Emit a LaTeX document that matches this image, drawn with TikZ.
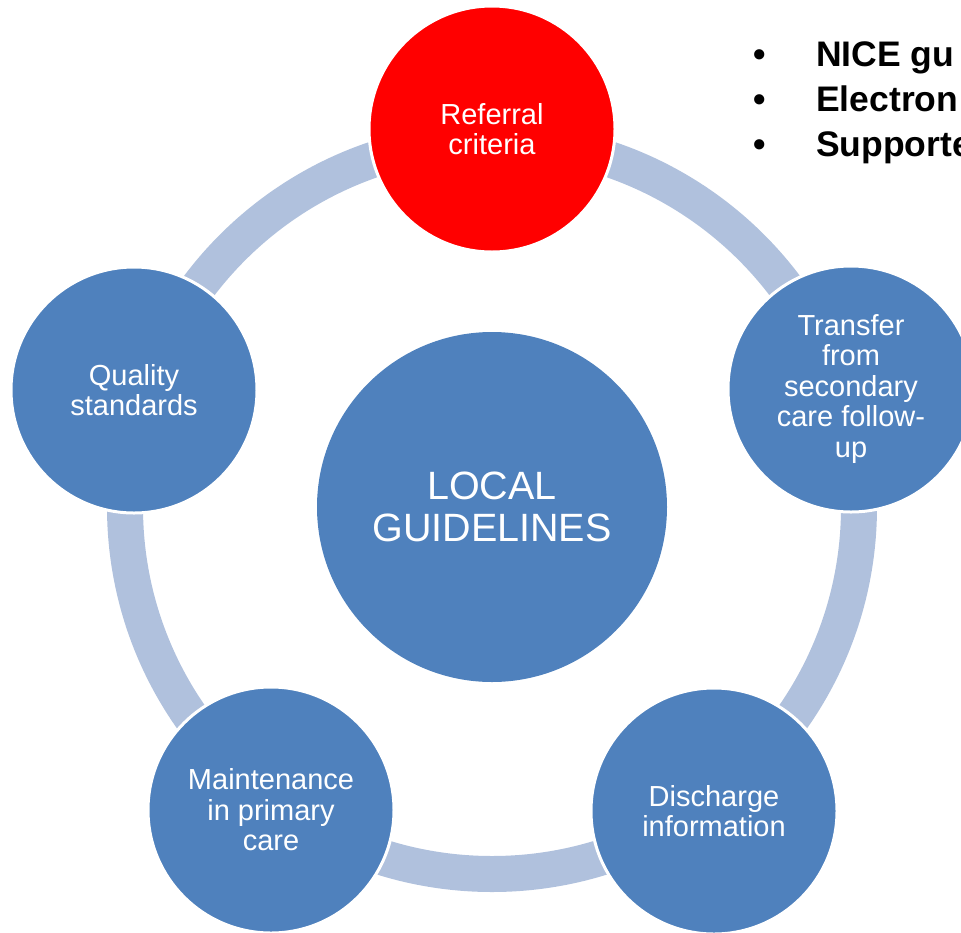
\documentclass[tikz,border=0pt]{standalone}
\usepackage{fontspec}
\setmainfont{Liberation Sans}
\definecolor{cblue}{RGB}{79,129,189}
\definecolor{cring}{RGB}{176,193,221}
\definecolor{cred}{RGB}{255,0,0}
\begin{document}
\begin{tikzpicture}[x=1pt,y=-1pt,
  outer/.style={circle, minimum size=246pt, inner sep=0pt, fill=cblue, draw=white, line width=3pt,
    text=white, align=center, font=\fontsize{29}{30.5}\selectfont},
  hub/.style={circle, minimum size=350pt, inner sep=0pt, fill=cblue,
    text=white, align=center, font=\fontsize{39.5}{42.3}\selectfont},
  ring/.style={draw=cring, line width=36pt},
  bul/.style={anchor=base, inner sep=0pt, font=\fontsize{35.5}{45}\selectfont\bfseries},
  bultext/.style={anchor=base west, inner sep=0pt, font=\fontsize{35.5}{45}\selectfont\bfseries}]
\useasboundingbox (0,0) rectangle (961,932);
\coordinate (c) at (492,507);
\draw[ring] (c) circle [radius=367pt];
\node[hub] (hub) at (c) {LOCAL\\GUIDELINES};
\node[outer, fill=cred] (ref) at (492,129) {Referral\\criteria};
\node[outer] (tra) at (851,389) {Transfer\\from\\secondary\\care follow-\\up};
\node[outer] (dis) at (714,811) {Discharge\\information};
\node[outer] (mai) at (271,810) {Maintenance\\in primary\\care};
\node[outer] (qua) at (134,390) {Quality\\standards};
\node[bul] (b1) at (760,66.7) {•};
\node[bul] (b2) at (760,111) {•};
\node[bul] (b3) at (760,156) {•};
\node[bultext] (t1) at (816,66.7) {NICE gu};
\node[bultext] (t2) at (816,111) {Electron};
\node[bultext] (t3) at (816,156) {Supporte};
\end{tikzpicture}
\end{document}
